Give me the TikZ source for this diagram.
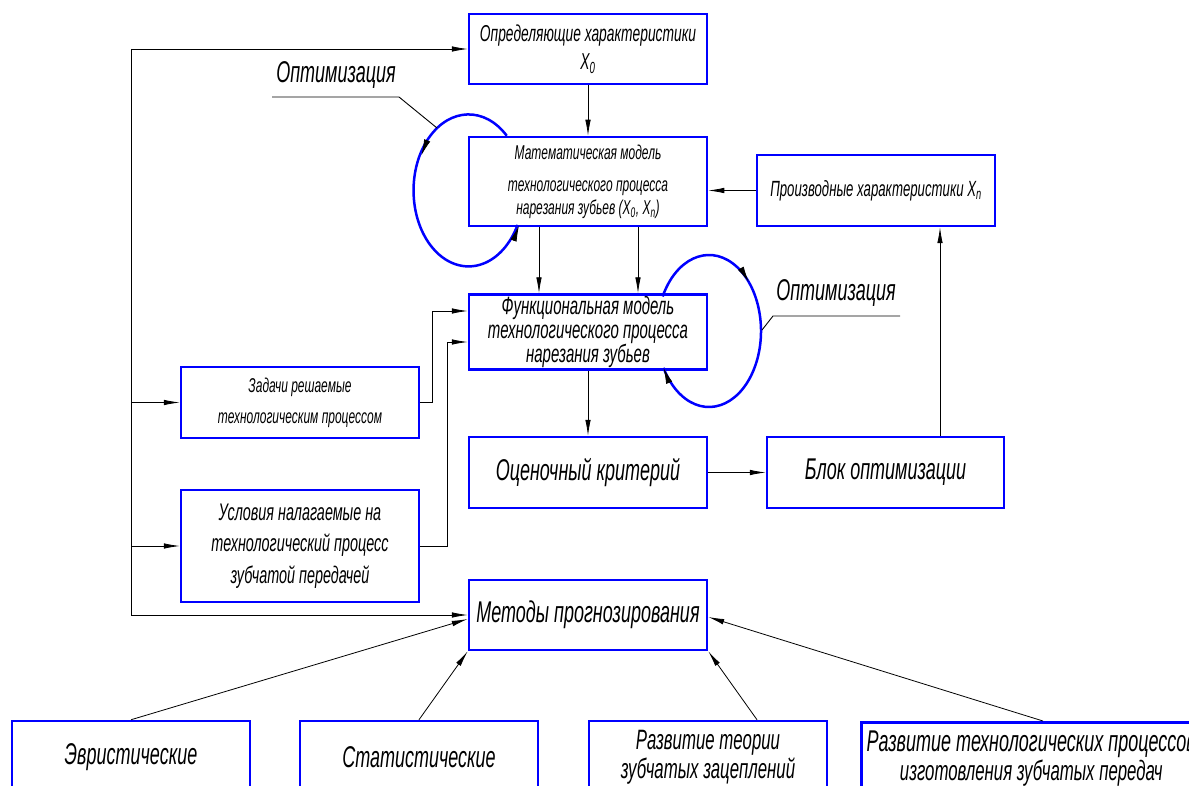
\documentclass[tikz,border=0pt]{standalone}
\usepackage{fontspec}
\newfontfamily\gost[FakeStretch=0.6]{Liberation Sans}
\usepackage{tikz}
\usetikzlibrary{arrows.meta}
\usetikzlibrary{positioning}
\newcommand{\fsz}[1]{\gost\itshape\fontsize{#1}{1.15\dimexpr#1pt\relax}\selectfont}
\tikzstyle{block} = [rectangle, draw=blue, line width=2.5pt, text=black,
    minimum width=238pt, minimum height=70pt, inner sep=2pt, align=center]
\tikzstyle{line} = [draw, line width=0.8pt, -{Latex[length=16pt,width=5.5pt]}]
\tikzstyle{optloop} = [draw=blue, line width=2.5pt]
\tikzstyle{looptip} = [draw, line width=0.8pt, -{Latex[length=16pt,width=6.5pt]}]
\tikzstyle{leader} = [draw, line width=0.9pt]
\tikzstyle{label} = [inner sep=0pt, font=\fsz{30}]

\begin{document}
\begin{tikzpicture}[x=1pt,y=-1pt]
    \useasboundingbox (0,0) rectangle (1189,786);
    \fill[white] (0,0) rectangle (1189,786);
    % Place nodes
    \node [block, font=\fsz{23}] (opr) at (588,49)
        {Определяющие характеристики\\[2pt] X\textsubscript{0}};
    \node [block, minimum height=89pt, font=\fsz{20}] (mat) at (588,181.5)
        {Математическая модель\\[9pt] технологического процесса\\ нарезания зубьев (X\textsubscript{0}, X\textsubscript{n})};
    \node [block, minimum height=71pt, font=\fsz{22}] (proizv) at (876,190.5)
        {Производные характеристики X\textsubscript{n}};
    \node [block, minimum height=72pt, font=\fsz{25}] (func) at (588,332)
        {Функциональная модель\\[-5pt] технологического процесса\\[-5pt] нарезания зубьев};
    \node [block, minimum height=71pt, font=\fsz{20}] (zad) at (300,402.5)
        {Задачи решаемые\\[8pt] технологическим процессом};
    \node [block, minimum height=112pt, font=\fsz{24}] (usl) at (300,546)
        {Условия налагаемые на\\[4pt] технологический процесс\\[4pt] зубчатой передачей};
    \node [block, minimum height=71pt, font=\fsz{30}] (ocen) at (588,472.5) {Оценочный критерий};
    \node [block, minimum width=237pt, minimum height=71pt, font=\fsz{30}] (blok) at (885.5,472.5) {Блок оптимизации};
    \node [block, font=\fsz{30}] (metody) at (588,615) {Методы прогнозирования};
    \node [block, minimum height=72pt, font=\fsz{30}] (evr) at (131,757) {Эвристические};
    \node [block, minimum height=72pt, font=\fsz{30}] (stat) at (419,757) {Статистические};
    \node [block, minimum height=72pt, font=\fsz{28}] (razv1) at (708,757)
        {Развитие теории\\[-3pt] зубчатых зацеплений};
    \node [block, minimum width=340pt, minimum height=72pt, anchor=north west, font=\fsz{28}] (razv2) at (860,721)
        {{\fontsize{30}{30}\selectfont Развитие технологических процессов}\\[-3pt] изготовления зубчатых передач};
    \node [label] (opt1) at (336,75) {Оптимизация};
    \node [label] (opt2) at (836,293) {Оптимизация};
    \coordinate (bus) at (131,0);
    % Draw edges
    \draw [line width=0.8pt] (bus |- opr.west) -- (bus |- metody.west);
    \path [line] (bus |- opr.west) -- (opr.west);
    \path [line] (bus |- zad.west) -- (zad.west);
    \path [line] (bus |- usl.west) -- (usl.west);
    \path [line] (bus |- metody.west) -- (metody.west);
    \path [line] (opr.south) -- (mat.north);
    \path [line] (proizv.west) -- (proizv.west -| mat.east);
    \path [line] ([xshift=-49pt]mat.south) -- ([xshift=-49pt]func.north);
    \path [line] ([xshift=50pt]mat.south) -- ([xshift=50pt]func.north);
    \path [line] (zad.east) -- ++(12,0) |- ([yshift=21pt]func.west);
    \path [line] (usl.east) -- ++(27,0) |- ([yshift=-10pt]func.west);
    \path [line] (func.south) -- (ocen.north);
    \path [line] (ocen.east) -- (blok.west);
    \path [line] ([xshift=54.5pt]blok.north) -- ([xshift=54.5pt]blok.north |- proizv.south);
    \path [line] (evr.north) -- ([yshift=-4pt]metody.west);
    \path [line] (stat.north) -- (metody.south west);
    \path [line] ([xshift=49pt]razv1.north) -- (metody.south east);
    \path [line] ([xshift=183pt]razv2.north west) -- ([yshift=-2pt]metody.east);
    % Optimization loops
    \path [optloop] (mat.north west) ++(39,0)
        arc[start angle=-46, end angle=-333, x radius=55, y radius=76];
    \path [optloop] (709,331) ++(-153:52 and 76)
        arc[start angle=-153, end angle=151, x radius=52, y radius=76];
    \path [looptip] (427.2,140.4) -- (421.4,155.3);
    \path [looptip] (513.5,240.5) -- (519.0,225.5);
    \path [looptip] (740.8,268.2) -- (748.8,282.1);
    \path [looptip] (669.2,382.8) -- (663.5,367.8);
    % Leaders
    \path [leader] ([xshift=-64pt,yshift=-22pt]opt1.center) -- ++(127,0) -- ++(38,31);
    \path [leader] ([xshift=64pt,yshift=-23pt]opt2.center) -- ++(-127,0) -- ++(-11,14);
\end{tikzpicture}
\end{document}
